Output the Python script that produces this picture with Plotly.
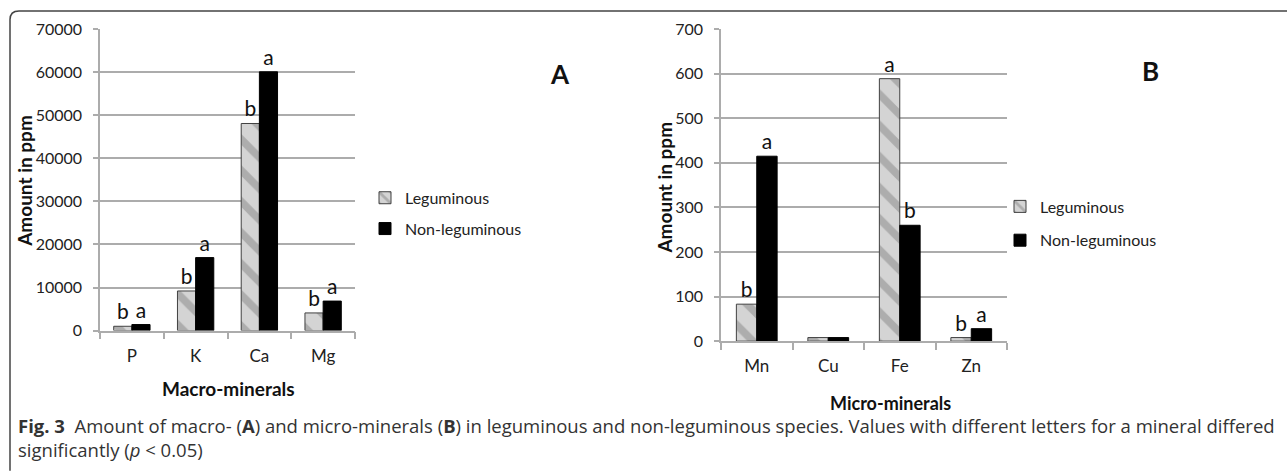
import plotly.graph_objects as go

W, H = 1287, 473

macro_cats = ["P", "K", "Ca", "Mg"]
macro_leg = [1000, 9200, 48100, 4100]
macro_non = [1400, 16950, 60100, 6850]
macro_leg_txt = ["b", "b", "b", "b"]
macro_non_txt = ["a", "a", "a", "a"]

micro_cats = ["Mn", "Cu", "Fe", "Zn"]
micro_leg = [83, 8, 589, 8]
micro_non = [415, 8, 260, 28]
micro_leg_txt = ["b", "", "a", "b"]
micro_non_txt = ["a", "", "b", "a"]

FONT = "Lato"
CAP_FONT = "Open Sans"

def px(x):
    return x / W

def py(y):
    return 1 - y / H

leg_marker = dict(color="#c4c4c4", line=dict(color="#404040", width=1),
                  pattern=dict(shape="\\", fgcolor="#858585", bgcolor="#d4d4d4",
                               size=22, solidity=0.35))
non_marker = dict(color="#000000", line=dict(color="#000000", width=1))

fig = go.Figure()
for cats, vals, txt, name, mk, xa, ya, lg in [
    (macro_cats, macro_leg, macro_leg_txt, "Leguminous", leg_marker, "x", "y", "legend"),
    (macro_cats, macro_non, macro_non_txt, "Non-leguminous", non_marker, "x", "y", "legend"),
    (micro_cats, micro_leg, micro_leg_txt, "Leguminous", leg_marker, "x2", "y2", "legend2"),
    (micro_cats, micro_non, micro_non_txt, "Non-leguminous", non_marker, "x2", "y2", "legend2"),
]:
    fig.add_trace(go.Bar(x=cats, y=vals, name=name, marker=mk, text=txt,
                         textposition="outside", cliponaxis=False,
                         textfont=dict(size=21, color="#111", family=FONT),
                         xaxis=xa, yaxis=ya, legend=lg, legendgroup=name))

grid = "#acacac"
xcommon = dict(type="category", showline=True, linecolor=grid, linewidth=1.5,
               ticks="outside", tickson="boundaries", ticklen=7, tickcolor=grid,
               tickwidth=1.5, tickfont=dict(size=17, family=FONT, color="#222"),
               showgrid=False, ticklabelstandoff=9)
ycommon = dict(showline=True, linecolor=grid, linewidth=1.5, showgrid=True,
               gridcolor=grid, gridwidth=1.5, ticks="outside", ticklen=5,
               tickcolor=grid, tickwidth=1.5, zeroline=False, ticklabelstandoff=8,
               tickfont=dict(size=16, family=FONT, color="#222"), tickformat="d")

fig.update_layout(
    width=W, height=H, margin=dict(l=0, r=0, t=0, b=0),
    paper_bgcolor="white", plot_bgcolor="white",
    font=dict(family=FONT, color="#111"),
    barmode="group", bargap=0.43, bargroupgap=0,
    showlegend=True,
    xaxis=dict(domain=[px(100), px(355)], anchor="y", **xcommon),
    yaxis=dict(domain=[py(334), py(20)], anchor="x", range=[0, 70000], dtick=10000, **ycommon),
    xaxis2=dict(domain=[px(721), px(1007)], anchor="y2", **xcommon),
    yaxis2=dict(domain=[py(345), py(20)], anchor="x2", range=[0, 700], dtick=100, **ycommon),
    legend=dict(x=px(365), y=py(178), xanchor="left", yanchor="top",
                font=dict(size=16, family=FONT, color="#222"), tracegroupgap=7,
                bgcolor="rgba(0,0,0,0)", itemwidth=30),
    legend2=dict(x=px(1000), y=py(187), xanchor="left", yanchor="top",
                 font=dict(size=16, family=FONT, color="#222"), tracegroupgap=10,
                 bgcolor="rgba(0,0,0,0)", itemwidth=30),
)

ann = []
def add_text(x, y, text, size, bold=False, angle=0, family=FONT, xanchor="center", color="#111"):
    ann.append(dict(x=px(x), y=py(y), xref="paper", yref="paper", text=(f"<b>{text}</b>" if bold else text),
                    showarrow=False, font=dict(size=size, family=family, color=color),
                    textangle=angle, xanchor=xanchor, yanchor="middle"))

add_text(560, 67, "A", 26, bold=True)
add_text(1150, 64, "B", 26, bold=True)
add_text(25, 178, "Amount in ppm", 19, bold=True, angle=-90)
add_text(665, 185, "Amount in ppm", 19, bold=True, angle=-90)
add_text(228, 394, "Macro-minerals", 19, bold=True)
add_text(890, 409, "Micro-minerals", 18, bold=True)
add_text(16, 433, "<b>Fig. 3</b>  Amount of macro- (<b>A</b>) and micro-minerals (<b>B</b>) in leguminous and non-leguminous species. Values with different letters for a mineral differed",
         18.5, family=CAP_FONT, xanchor="left", color="#333")
add_text(16, 458, "significantly (<i>p</i> &lt; 0.05)", 18.5, family=CAP_FONT, xanchor="left", color="#333")
fig.update_layout(annotations=ann)

r = 9
top = 1
path = (f"M {px(10)},{py(480)} L {px(10)},{py(top + r)} "
        f"Q {px(10)},{py(top)} {px(10 + r)},{py(top)} L {px(1287)},{py(top)}")
fig.add_shape(type="path", path=path, xref="paper", yref="paper",
              line=dict(color="#444", width=1.5))

fig.write_html("out.html", config={"displayModeBar": False},
               post_script="document.body.style.margin='0';document.body.style.overflow='hidden';")
